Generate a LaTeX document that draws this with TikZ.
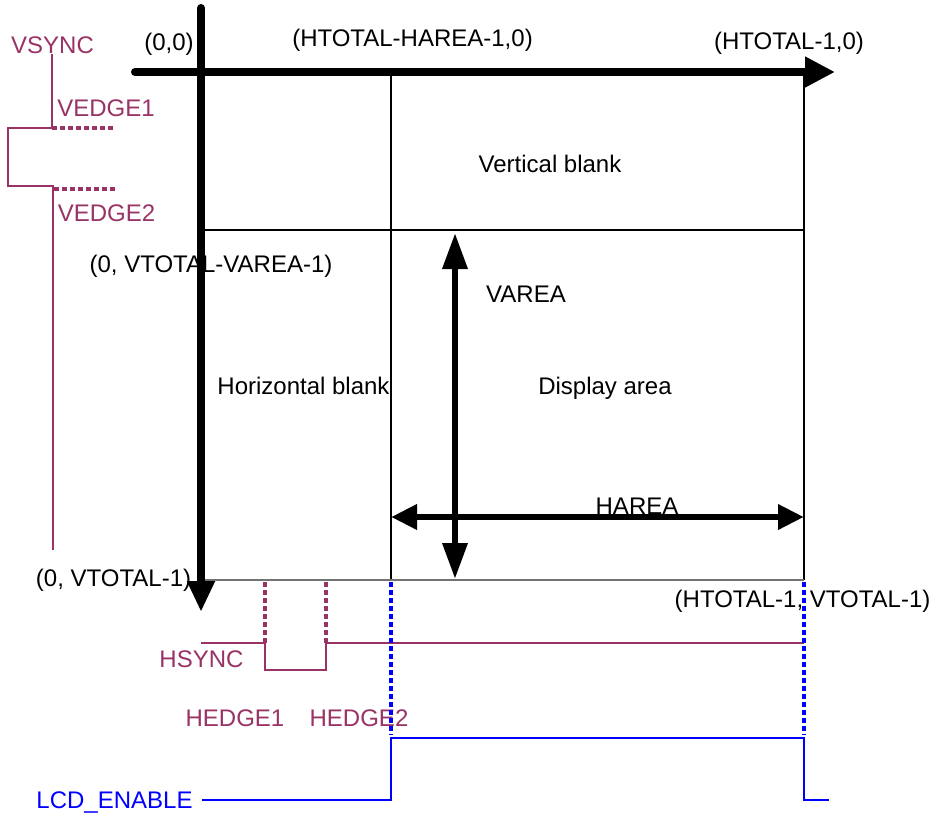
\documentclass[tikz,border=0pt]{standalone}
\usepackage{fontspec}
\setmainfont{Liberation Sans}
\usetikzlibrary{arrows.meta}
\definecolor{sigpurple}{HTML}{993366}
\definecolor{sigblue}{HTML}{0000FF}
\tikzset{
  lbl/.style={anchor=base, inner sep=0pt, font=\fontsize{24}{28}\selectfont},
  plbl/.style={lbl, text=sigpurple},
  blbl/.style={lbl, text=sigblue},
  axis/.style={line width=8pt, -{Triangle[length=30pt,width=29pt]}},
  dimarrow/.style={line width=6.5pt},
  thinline/.style={line width=1.2pt},
  psig/.style={line width=1.2pt, draw=sigpurple},
  bsig/.style={line width=1.3pt, draw=sigblue},
  pdots/.style={line width=4pt, draw=sigpurple, dash pattern=on 5pt off 3pt},
  bdots/.style={line width=4pt, draw=sigblue, dash pattern=on 5pt off 3pt},
}
\begin{document}
\begin{tikzpicture}[x=1pt,y=-1pt]
\useasboundingbox (0,0) rectangle (936,816);
% corner coordinates
\coordinate (TL) at (201,72);
\coordinate (HA) at (391,72);
\coordinate (TR) at (804,72);
\coordinate (ML) at (201,230);
\coordinate (MR) at (804,230);
\coordinate (BL) at (201,580);
\coordinate (BH) at (391,580);
\coordinate (BR) at (804,580);
% frame lines
\draw[thinline] (HA) -- (BH);
\draw[thinline] (TR) -- (BR);
\draw[thinline] (ML) -- (MR);
\draw[line width=1.5pt, draw=black!55] (BL) -- (BR);
% main axes
\coordinate (xs) at (135,72);
\coordinate (xe) at (835,72);
\coordinate (ys) at (201,8);
\coordinate (ye) at (201,612);
\draw[axis, line cap=round] (xs) -- (xe);
\draw[axis, line cap=round, -{Triangle[length=31pt,width=26pt]}] (ys) -- (ye);
% VAREA and HAREA arrows
\coordinate (vt) at (455,233);
\coordinate (vb) at (455,579);
\draw[dimarrow, {Triangle[length=36pt,width=24pt]}-{Triangle[length=36pt,width=24pt]}] (vt) -- (vb);
\coordinate (hl) at (391,517);
\coordinate (hr) at (804,517);
\draw[dimarrow, {Triangle[length=26pt,width=24pt]}-{Triangle[length=26pt,width=24pt]}] (hl) -- (hr);
% labels
\node[lbl] (l00) at (169,51) {(0,0)};
\node[lbl] (lha) at (412.5,46) {(HTOTAL-HAREA-1,0)};
\node[lbl] (lht) at (789,50) {(HTOTAL-1,0)};
\node[lbl] (lvb) at (550,172) {Vertical blank};
\node[lbl] (lva1) at (211,272) {(0, VTOTAL-VAREA-1)};
\node[lbl] (lvarea) at (526,302) {VAREA};
\node[lbl] (lhb) at (303.5,394) {Horizontal blank};
\node[lbl] (lda) at (605,394) {Display area};
\node[lbl] (lharea) at (637,514) {HAREA};
\node[lbl] (lvt) at (113.5,586) {(0, VTOTAL-1)};
\node[lbl] (lhv) at (802.5,607) {(HTOTAL-1, VTOTAL-1)};
% VSYNC
\node[plbl] (vsync) at (52.5,54) {VSYNC};
\node[plbl] (ve1) at (106,116) {VEDGE1};
\node[plbl] (ve2) at (106.5,221) {VEDGE2};
\coordinate (v1) at (52,54);
\coordinate (v2) at (52,128);
\coordinate (v3) at (8,128);
\coordinate (v4) at (8,186);
\coordinate (v5) at (53,186);
\coordinate (v6) at (53,550);
\draw[psig] (v1) -- (v2) -- (v3) -- (v4) -- (v5) -- (v6);
\coordinate (d1a) at (52,128);
\coordinate (d1b) at (115,128);
\coordinate (d2a) at (54,189);
\coordinate (d2b) at (117,189);
\draw[pdots] (d1a) -- (d1b);
\draw[pdots] (d2a) -- (d2b);
% HSYNC
\node[plbl] (hsync) at (201.5,667) {HSYNC};
\node[plbl] (he1) at (235,726) {HEDGE1};
\node[plbl] (he2) at (359,726) {HEDGE2};
\coordinate (h1) at (201,643);
\coordinate (h2) at (265,643);
\coordinate (h3) at (265,670);
\coordinate (h4) at (326,670);
\coordinate (h5) at (326,643);
\coordinate (h6) at (804,643);
\draw[psig] (h1) -- (h2) -- (h3) -- (h4) -- (h5) -- (h6);
\coordinate (hd1) at (265,582);
\coordinate (hd2) at (326,582);
\draw[pdots] (hd1) -- (h2);
\draw[pdots] (hd2) -- (h5);
% LCD_ENABLE
\node[blbl] (lcd) at (114.5,808) {LCD\_ENABLE};
\coordinate (e1) at (202,800);
\coordinate (e2) at (391,800);
\coordinate (e3) at (391,738);
\coordinate (e4) at (804,738);
\coordinate (e5) at (804,800);
\coordinate (e6) at (829,800);
\draw[bsig] (e1) -- (e2) -- (e3) -- (e4) -- (e5) -- (e6);
\coordinate (bd1) at (391,582);
\coordinate (bd1e) at (391,735);
\coordinate (bd2) at (804,582);
\coordinate (bd2e) at (804,735);
\draw[bdots] (bd1) -- (bd1e);
\draw[bdots] (bd2) -- (bd2e);
\end{tikzpicture}
\end{document}
